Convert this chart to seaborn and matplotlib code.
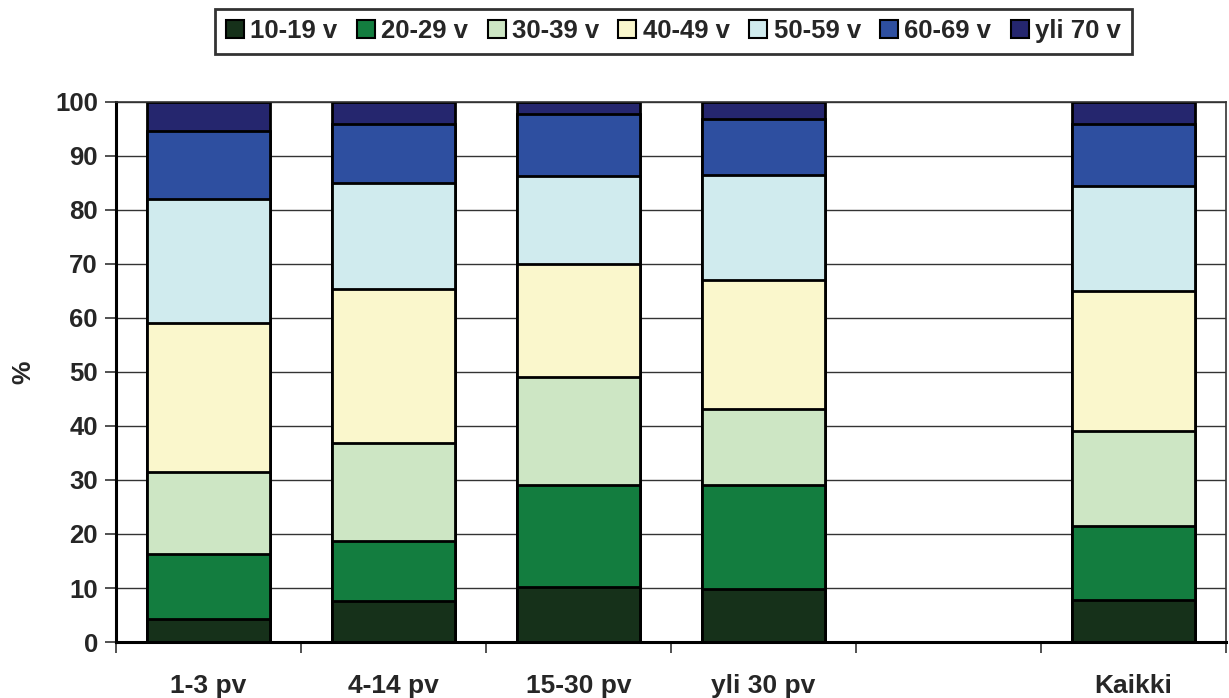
import numpy as np
import pandas as pd
import matplotlib
matplotlib.use("Agg")
import matplotlib.pyplot as plt
from matplotlib.patches import Patch
import seaborn as sns

# categories (the blank slot is an empty gap in the original chart)
CATEGORIES = ["1-3 pv", "4-14 pv", "15-30 pv", "yli 30 pv", "", "Kaikki"]
AGE_GROUPS = ["10-19 v", "20-29 v", "30-39 v", "40-49 v", "50-59 v", "60-69 v", "yli 70 v"]

# shares (%) per age group, one value per category
V_10_19 = [4.2, 7.6, 10.2, 9.9, 0, 7.7]
V_20_29 = [12.1, 11.1, 18.9, 19.1, 0, 13.8]
V_30_39 = [15.2, 18.2, 20.0, 14.2, 0, 17.5]
V_40_49 = [27.5, 28.4, 20.8, 23.8, 0, 25.9]
V_50_59 = [23.0, 19.7, 16.4, 19.4, 0, 19.6]
V_60_69 = [12.7, 10.9, 11.4, 10.4, 0, 11.5]
V_70 = [5.3, 4.1, 2.3, 3.2, 0, 4.0]

SERIES = [V_10_19, V_20_29, V_30_39, V_40_49, V_50_59, V_60_69, V_70]
COLORS = ["#16311a", "#137d3f", "#cde6c4", "#faf7cc", "#d0ebee", "#2e4fa0", "#25266e"]

sns.set_theme(style="white")
plt.rcParams["font.family"] = ["Liberation Sans", "DejaVu Sans"]
plt.rcParams["font.weight"] = "bold"

fig = plt.figure(figsize=(12.29, 6.98), dpi=100)
ax = fig.add_axes([0.0944, 0.0802, 0.9032, 0.7738])

# gridlines behind bars
ax.set_axisbelow(True)
ax.yaxis.grid(True, color="#333333", linewidth=1.0)

df = pd.DataFrame({"cat": CATEGORIES})
cum = np.zeros(len(CATEGORIES))
tops = []
for vals in SERIES:
    cum = cum + np.array(vals)
    tops.append(cum.copy())

# draw cumulative bars from the top series down so each covers the one above
for top, color in reversed(list(zip(tops, COLORS))):
    d = df.assign(val=top)
    sns.barplot(data=d, x="cat", y="val", order=CATEGORIES, color=color,
                width=0.665, edgecolor="black", linewidth=2.0, saturation=1,
                ax=ax, zorder=2)

ax.set_ylim(0, 100)
ax.set_xlim(-0.5, len(CATEGORIES) - 0.5)
ax.set_yticks(np.arange(0, 101, 10))
ax.tick_params(axis="y", which="major", left=True, length=8, width=1.2,
               color="#333333", labelsize=18.5, pad=5)
ax.set_xticks(np.arange(len(CATEGORIES)))
ax.set_xticklabels(CATEGORIES)
ax.tick_params(axis="x", which="major", bottom=False, length=0, labelsize=19, pad=23)
ax.set_xticks(np.arange(-0.5, len(CATEGORIES) + 0.5, 1), minor=True)
ax.tick_params(axis="x", which="minor", bottom=True, length=8, width=1.2, color="#333333")

for lbl in ax.get_xticklabels() + ax.get_yticklabels():
    lbl.set_fontweight("bold")

ax.set_xlabel("")
ax.set_ylabel("%", fontsize=19, fontweight="bold", labelpad=14)

for side in ["left", "bottom"]:
    ax.spines[side].set_color("black")
    ax.spines[side].set_linewidth(2.2)
for side in ["top", "right"]:
    ax.spines[side].set_color("#333333")
    ax.spines[side].set_linewidth(1.2)

handles = [Patch(facecolor=c, edgecolor="black", linewidth=1.5) for c in COLORS]
leg = fig.legend(handles, AGE_GROUPS, loc="center", bbox_to_anchor=(0.548, 0.955),
                 ncol=7, frameon=True, fancybox=False,
                 handlelength=0.7, handleheight=0.7, handletextpad=0.25,
                 columnspacing=0.75, borderpad=0.42, borderaxespad=0,
                 prop={"weight": "bold", "size": 18.5})
leg.get_frame().set_edgecolor("black")
leg.get_frame().set_linewidth(2.0)

fig.savefig("out.png", dpi=100)
